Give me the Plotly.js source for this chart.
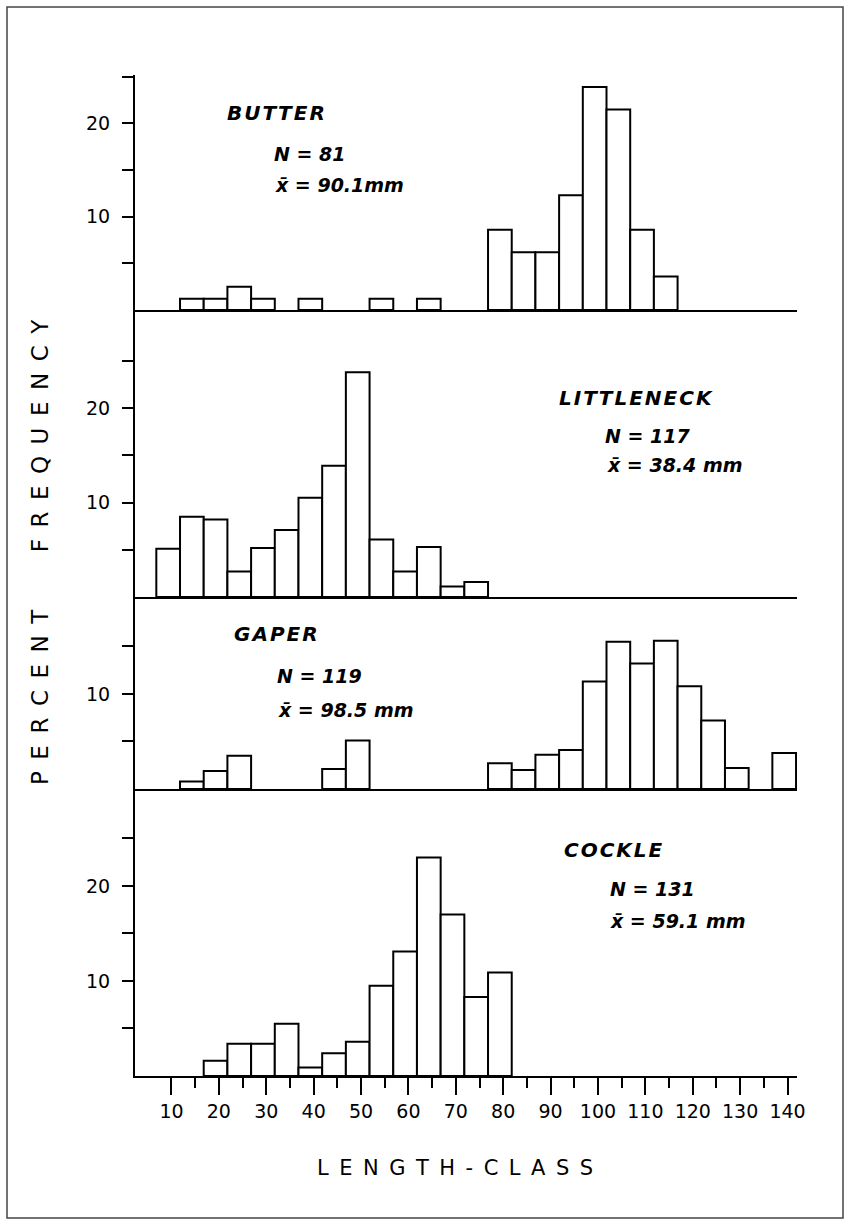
<!DOCTYPE html>
<html>
<head>
<meta charset="utf-8">
<script src="https://cdn.plot.ly/plotly-3.0.1.min.js"></script>
<style>html,body{margin:0;padding:0;background:#fff;}#chart{width:848px;height:1223px;}</style>
</head>
<body>
<div id="chart"></div>
<script>
// ---- DATA (percent frequency by 5 mm length class) ----
const butterX = [15, 20, 25, 30, 40, 55, 65, 80, 85, 90, 95, 100, 105, 110, 115];
const butterY = [1.2, 1.2, 2.5, 1.2, 1.2, 1.2, 1.2, 8.6, 6.2, 6.2, 12.3, 23.9, 21.5, 8.6, 3.6];

const littleneckX = [10, 15, 20, 25, 30, 35, 40, 45, 50, 55, 60, 65, 70, 75];
const littleneckY = [5.1, 8.5, 8.2, 2.7, 5.2, 7.1, 10.5, 13.9, 23.8, 6.1, 2.7, 5.3, 1.1, 1.6];

const gaperX = [15, 20, 25, 45, 50, 80, 85, 90, 95, 100, 105, 110, 115, 120, 125, 130, 140];
const gaperY = [0.8, 1.9, 3.5, 2.1, 5.1, 2.7, 2.0, 3.6, 4.1, 11.3, 15.5, 13.2, 15.6, 10.8, 7.2, 2.2, 3.8];

const cockleX = [20, 25, 30, 35, 40, 45, 50, 55, 60, 65, 70, 75, 80];
const cockleY = [1.6, 3.4, 3.4, 5.5, 0.9, 2.4, 3.6, 9.5, 13.1, 23.0, 17.0, 8.3, 10.9];

const speciesNames = ["BUTTER", "LITTLENECK", "GAPER", "COCKLE"];
const nLabels = ["N = 81", "N = 117", "N = 119", "N = 131"];
const meanLabels = ["x\u0304 = 90.1mm", "x\u0304 = 38.4 mm", "x\u0304 = 98.5 mm", "x\u0304 = 59.1 mm"];

const xTickVals = [10, 20, 30, 40, 50, 60, 70, 80, 90, 100, 110, 120, 130, 140];
const xTickText = ["10", "20", "30", "40", "50", "60", "70", "80", "90", "100", "110", "120", "130", "140"];
const xMinorVals = [15, 25, 35, 45, 55, 65, 75, 85, 95, 105, 115, 125, 135];
const yTickValsTall = [5, 10, 15, 20, 25];
const yTickTextTall = ["", "10", "", "20", ""];
const yTickValsShort = [5, 10, 15];
const yTickTextShort = ["", "10", ""];

const xTitle = "LENGTH-CLASS";
const yTitle = "PERCENT FREQUENCY";

// ---- LAYOUT GEOMETRY ----
const W = 848, H = 1223;
const L = 135, R = 797, T = 75, B = 1076;
const pw = R - L, ph = B - T;
const px2x = p => (p - L) / pw;
const py2y = p => (B - p) / ph;
// panel boundaries (pixel rows), top->bottom: butter, littleneck, gaper, cockle
const rows = [75, 310, 597, 789, 1076];
const yRanges = [[0, 25.2], [0, 30.4], [0, 20.2], [0, 30.2]];
const yTicks = [
  [yTickValsTall, yTickTextTall],
  [yTickValsTall, yTickTextTall],
  [yTickValsShort, yTickTextShort],
  [yTickValsTall, yTickTextTall]
];

const FONT = "DejaVu Sans";
const spaced = (s, sep) => s.split("").map(c => c === " " ? "\u2003\u2002" : c).join(sep);

const panels = [
  {x: butterX, y: butterY},
  {x: littleneckX, y: littleneckY},
  {x: gaperX, y: gaperY},
  {x: cockleX, y: cockleY}
];

// axis ids: panel i (0 = top) -> index k = 4 - i  (cockle = 1 at bottom)
const traces = panels.map((p, i) => {
  const k = 4 - i;
  return {
    type: "bar",
    x: p.x, y: p.y,
    width: 5, offset: -3.2,
    xaxis: k === 1 ? "x" : "x" + k,
    yaxis: k === 1 ? "y" : "y" + k,
    marker: {color: "#ffffff", line: {color: "#000000", width: 2}},
    hoverinfo: "skip",
    showlegend: false
  };
});

const layout = {
  width: W, height: H,
  margin: {l: L, r: W - R, t: T, b: H - B, pad: 0},
  paper_bgcolor: "#ffffff", plot_bgcolor: "#ffffff",
  barmode: "overlay",
  showlegend: false,
  font: {family: FONT, color: "#000", size: 18},
  annotations: [],
  shapes: [{
    type: "rect", xref: "paper", yref: "paper",
    x0: px2x(7), x1: px2x(843), y0: py2y(1218), y1: py2y(7),
    line: {color: "#444", width: 1.5}, fillcolor: "rgba(0,0,0,0)", layer: "below"
  }]
};

for (let i = 0; i < 4; i++) {
  const k = 4 - i;
  const dom = [py2y(rows[i + 1]), py2y(rows[i])];
  const xName = k === 1 ? "xaxis" : "xaxis" + k;
  const yName = k === 1 ? "yaxis" : "yaxis" + k;
  const yId = k === 1 ? "y" : "y" + k;
  const xAx = {
    anchor: yId,
    range: [2.3, 142],
    showgrid: false, zeroline: false,
    showline: true, linecolor: "#000", linewidth: 2,
    fixedrange: true
  };
  if (k === 1) {
    Object.assign(xAx, {
      tickmode: "array", tickvals: xTickVals, ticktext: xTickText,
      ticks: "outside", ticklen: 17, tickwidth: 2, tickcolor: "#000",
      tickfont: {family: FONT, size: 19, color: "#000"},
      minor: {tickmode: "array", tickvals: xMinorVals, ticks: "outside", ticklen: 10, tickwidth: 2, tickcolor: "#000"}
    });
  } else {
    Object.assign(xAx, {matches: "x", ticks: "", showticklabels: false});
  }
  layout[xName] = xAx;
  layout[yName] = {
    domain: dom,
    anchor: k === 1 ? "x" : "x" + k,
    range: yRanges[i],
    showgrid: false, zeroline: false,
    showline: true, linecolor: "#000", linewidth: 2,
    tickmode: "array", tickvals: yTicks[i][0], ticktext: yTicks[i][1],
    ticks: "outside", ticklen: 11, tickwidth: 2, tickcolor: "#000",
    ticklabelstandoff: 8,
    tickfont: {family: FONT, size: 19, color: "#000"},
    fixedrange: true
  };
}

// panel labels
const labelPos = [
  {sp: [225, 113], n: [272, 154], m: [273, 185]},
  {sp: [557, 398], n: [603, 436], m: [605, 465]},
  {sp: [232, 634], n: [275, 676], m: [276, 710]},
  {sp: [562, 850], n: [608, 889], m: [608, 921]}
];
const labFont = (s) => ({family: FONT, size: s, color: "#000", style: "italic", weight: "bold"});
labelPos.forEach((p, i) => {
  layout.annotations.push({
    xref: "paper", yref: "paper", x: px2x(p.sp[0]), y: py2y(p.sp[1]),
    xanchor: "left", yanchor: "middle", showarrow: false,
    text: spaced(speciesNames[i], "\u200a"), font: labFont(20)
  });
  layout.annotations.push({
    xref: "paper", yref: "paper", x: px2x(p.n[0]), y: py2y(p.n[1]),
    xanchor: "left", yanchor: "middle", showarrow: false,
    text: nLabels[i], font: labFont(19)
  });
  layout.annotations.push({
    xref: "paper", yref: "paper", x: px2x(p.m[0]), y: py2y(p.m[1]),
    xanchor: "left", yanchor: "middle", showarrow: false,
    text: meanLabels[i], font: labFont(19)
  });
});

// axis titles (letter-spaced)
layout.annotations.push({
  xref: "paper", yref: "paper", x: px2x(455), y: py2y(1168),
  xanchor: "center", yanchor: "middle", showarrow: false,
  text: xTitle.split("").join("\u2002"),
  font: {family: FONT, size: 21, color: "#000"}
});
layout.annotations.push({
  xref: "paper", yref: "paper", x: px2x(40), y: py2y(552),
  xanchor: "center", yanchor: "middle", showarrow: false, textangle: -90,
  text: spaced(yTitle, "\u2002"),
  font: {family: FONT, size: 23, color: "#000"}
});

Plotly.newPlot("chart", traces, layout, {staticPlot: true, displayModeBar: false});
</script>
</body>
</html>
